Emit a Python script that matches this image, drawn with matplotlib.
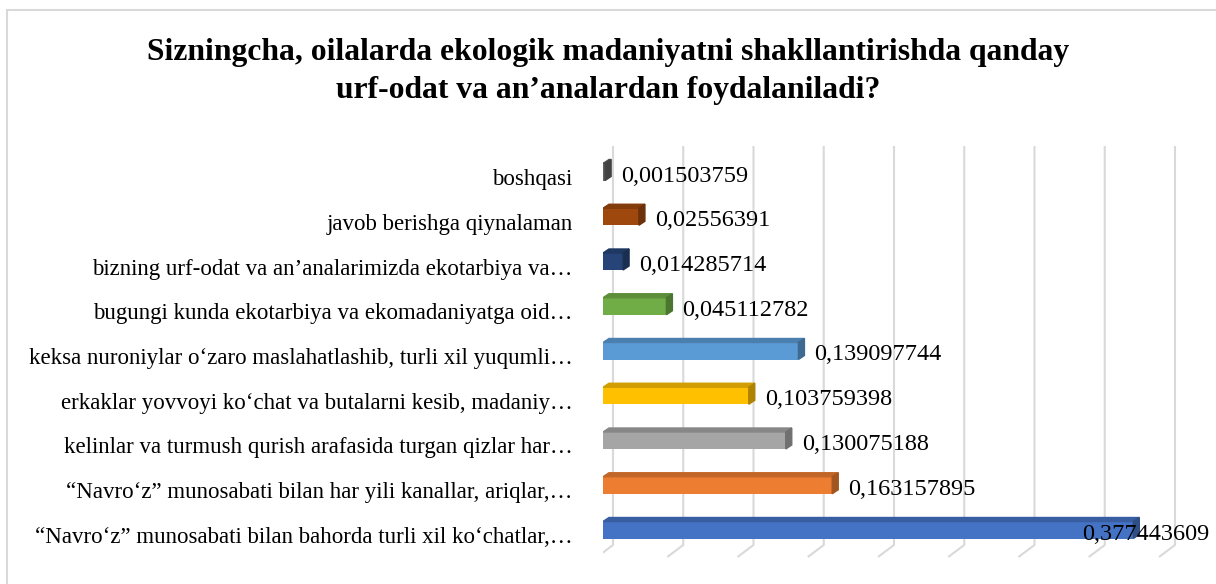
import numpy as np
import matplotlib.pyplot as plt
from matplotlib.patches import Polygon, Rectangle
from matplotlib.colors import to_rgb
from matplotlib.transforms import ScaledTranslation

plt.rcParams['font.family'] = ['Liberation Serif', 'DejaVu Serif']

title_lines = ["Sizningcha, oilalarda ekologik madaniyatni shakllantirishda qanday",
               "urf-odat va an\u2019analardan foydalaniladi?"]

# bottom to top
categories = [
    "\u201cNavro\u2018z\u201d munosabati bilan bahorda turli xil ko\u2018chatlar,\u2026",
    "\u201cNavro\u2018z\u201d munosabati bilan har yili kanallar, ariqlar,\u2026",
    "kelinlar va turmush qurish arafasida turgan qizlar har\u2026",
    "erkaklar yovvoyi ko\u2018chat va butalarni kesib, madaniy\u2026",
    "keksa nuroniylar o\u2018zaro maslahatlashib, turli xil yuqumli\u2026",
    "bugungi kunda ekotarbiya va ekomadaniyatga oid\u2026",
    "bizning urf-odat va an\u2019analarimizda ekotarbiya va\u2026",
    "javob berishga qiynalaman",
    "boshqasi",
]
values = [0.377443609, 0.163157895, 0.130075188, 0.103759398, 0.139097744,
          0.045112782, 0.014285714, 0.02556391, 0.001503759]
value_labels = ["0,377443609", "0,163157895", "0,130075188", "0,103759398",
                "0,139097744", "0,045112782", "0,014285714", "0,02556391",
                "0,001503759"]
colors = ["#4472C4", "#ED7D31", "#A5A5A5", "#FFC000", "#5B9BD5",
          "#70AD47", "#264478", "#9E480E", "#636363"]
grid_values = np.arange(0, 0.41, 0.05)

W, H = 1216, 584
fig = plt.figure(figsize=(W / 100, H / 100), dpi=100)

# pixel scales used for the pseudo-3D depth
px_x = 1405.0   # pixels per unit of value
px_y = 44.75    # pixels per category step
x0_px, y0_px = 603, 530

ax = fig.add_axes([x0_px / W, 0, (W - x0_px) / W, (H - 100) / H])
ax.set_xlim(0, (W - x0_px) / px_x)
ax.set_ylim((y0_px - H) / px_y, (y0_px - 100) / px_y)
for s in ax.spines.values():
    s.set_visible(False)
ax.set_xticks([])

# gridlines (back wall + floor)
gb, gf = 10 / px_x, -6 / px_x
y_top, y_back, y_front = (y0_px - 146) / px_y, (y0_px - 545) / px_y, (y0_px - 557) / px_y
for g in grid_values:
    ax.plot([g + gb, g + gb, g + gf], [y_top, y_back, y_front],
            color="#D9D9D9", lw=1.5, zorder=0, solid_capstyle='butt')

ypos = np.arange(len(categories))
h = 17 / px_y
dx, dy = 6 / px_x, 4 / px_y


def shade(c, f):
    r, g, b = to_rgb(c)
    return (r * f, g * f, b * f)


ax.barh(ypos, values, height=h, color=colors, zorder=2)
for y, v, c in zip(ypos, values, colors):
    top = Polygon([(0, y + h / 2), (v, y + h / 2), (v + dx, y + h / 2 + dy),
                   (dx, y + h / 2 + dy)], closed=True, color=shade(c, 0.82), zorder=2)
    side = Polygon([(v, y - h / 2), (v + dx, y - h / 2 + dy), (v + dx, y + h / 2 + dy),
                    (v, y + h / 2)], closed=True, color=shade(c, 0.68), zorder=2)
    ax.add_patch(top)
    ax.add_patch(side)

lab_dy = -4 / px_y
for y, v, lab in zip(ypos, values, value_labels):
    if v > 0.3:
        ax.text(v + 0.009, y + lab_dy, lab, ha='center', va='center', fontsize=17.5,
                zorder=3, clip_on=False)
    else:
        ax.text(v + dx + 10 / px_x, y + lab_dy, lab, ha='left', va='center',
                fontsize=17.5, zorder=3)

ax.set_yticks(ypos)
ax.set_yticklabels(categories, fontsize=16.5)
ax.tick_params(axis='y', length=0, pad=22)
shift = ScaledTranslation(0, -5 / 100, fig.dpi_scale_trans)
for t in ax.get_yticklabels():
    t.set_transform(t.get_transform() + shift)

for line, base in zip(title_lines, [60, 98]):
    fig.text(0.5, 1 - base / H, line, ha='center', va='baseline', fontsize=22.8,
             fontweight='bold')

fig.patches.append(Rectangle((7 / W, -0.05), 1.2, 1 - 10 / H + 0.05,
                             transform=fig.transFigure, fill=False,
                             edgecolor="#D9D9D9", lw=1.5))

fig.savefig("out.png", dpi=100)
